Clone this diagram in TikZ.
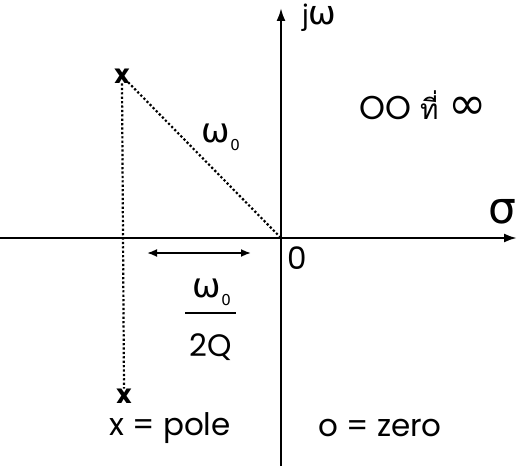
\documentclass[tikz,border=0pt]{standalone}
\usepackage{fontspec}
\setmainfont{Poppins}
\newfontfamily\djv{DejaVu Sans}
\newfontfamily\thaifont[Script=Thai]{Loma}
\usetikzlibrary{arrows.meta}
\begin{document}
\begin{tikzpicture}[x=1pt,y=-1pt,
  axis/.style={line width=2.2pt,-{Latex[length=13pt,width=9pt]}},
  dotline/.style={line width=2.2pt,dash pattern=on 2.2pt off 2.2pt},
  polemark/.style={inner sep=0pt,font=\fontsize{26}{26}\selectfont\bfseries},
  lbl/.style={inner sep=0pt,font=\fontsize{31}{31}\selectfont},
  gk/.style={inner sep=0pt,font=\djv\fontsize{34}{34}\selectfont}]
\useasboundingbox (0,0) rectangle (517,468);
\coordinate (O) at (281,238);
\coordinate (ytop) at (281,8);
\coordinate (ybot) at (281,466);
\coordinate (xl) at (0,238);
\coordinate (xr) at (517,238);
\draw[axis] (ybot) -- (ytop);
\draw[axis] (xl) -- (xr);
\node[polemark] (p1) at (122,76) {x};
\node[polemark] (p2) at (124,396) {x};
\draw[dotline] (p1.south) -- (p2.north);
\draw[dotline] (p1.center) -- (O);
\node[inner sep=0pt,anchor=west] (jw) at (302,18) {\fontsize{27}{27}\selectfont j\djv\fontsize{33}{33}\selectfont ω};
\node[gk,font=\djv\fontsize{44}{44}\selectfont] (sig) at (502,212) {σ};
\node[lbl] (zero) at (297,258) {0};
\node[gk] (w0) at (221,137) {ω\raisebox{-8pt}{\fontsize{15}{15}\selectfont 0}};
\coordinate (da) at (147,253);
\coordinate (db) at (251,253);
\draw[line width=1.8pt,{Latex[length=10pt,width=8pt]}-{Latex[length=10pt,width=8pt]}] (da) -- (db);
\node[gk] (fn) at (212,292) {ω\raisebox{-8pt}{\fontsize{15}{15}\selectfont 0}};
\coordinate (fl) at (185,313);
\coordinate (fr) at (236,313);
\draw[line width=2pt] (fl) -- (fr);
\node[lbl] (fd) at (211,347) {2Q};
\node[lbl] (pole) at (170,428) {x = pole};
\node[lbl] (zer) at (380,428) {o = zero};
\node[inner sep=0pt] (inf) at (423,105) {\fontsize{33}{33}\selectfont OO \thaifont\fontsize{28}{28}\selectfont ที่ \djv\fontsize{46}{46}\selectfont ∞};
\end{tikzpicture}
\end{document}
